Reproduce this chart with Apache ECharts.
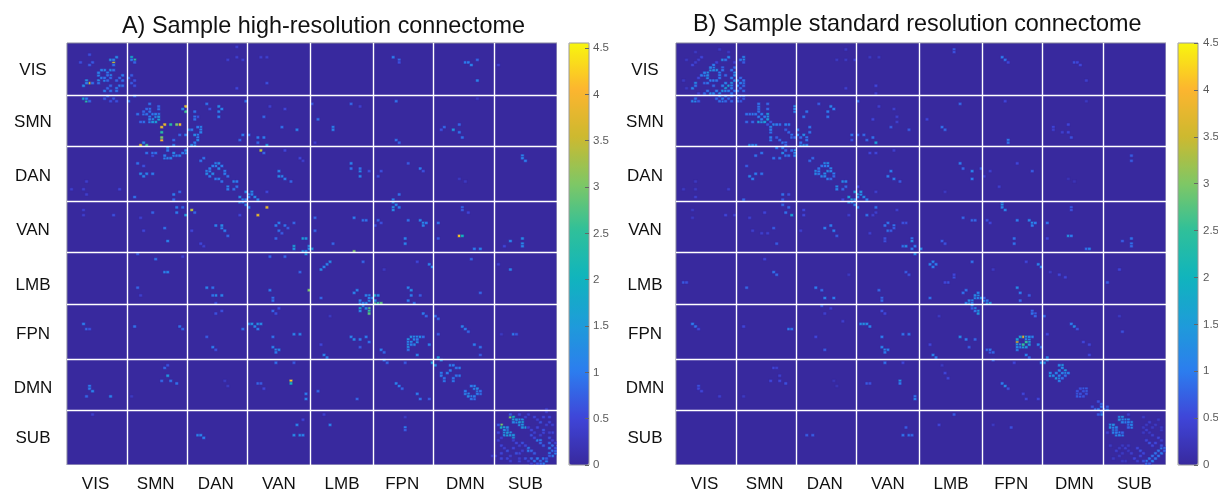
<!DOCTYPE html>
<html>
<head>
<meta charset="utf-8">
<style>html,body{margin:0;padding:0;background:#fff}#c{width:1218px;height:493px}canvas{filter:blur(.45px)}</style>
<script src="https://cdn.jsdelivr.net/npm/echarts@6/dist/echarts.min.js"></script>
</head>
<body>
<div id="c"></div>
<script>
const nodeCount = 163;
const networks = ['VIS','SMN','DAN','VAN','LMB','FPN','DMN','SUB'];
const labelNodesX = [9,29,49,70,91,111,132,152];
const labelNodesY = [10,30,51,72,93,112,133,152];
const boundariesX = [20,40,60,81,102,122,142];
const boundariesY = [20,40,61,81,101,122,142];
const colorbarTicks = [0,0.5,1,1.5,2,2.5,3,3.5,4,4.5];
const colorStops = ['#38299e','#3f45d8','#2c7dee','#1e9cd9','#10b4bd','#2fc09a','#7fc765','#cdb92f','#fcb52f','#f8f60e'];
const maxA = 4.554, maxB = 4.5;

// Upper-triangle connections: [node i, node j, strength]
const edgesA = [
[7,15,3.5],[6,14,1.3],[5,16,1.2],[6,15,1.1],[8,15,.9],[7,8,.7],[4,7,.6],[10,12,1.1],[10,14,1.2],[10,15,.9],[11,13,1],[12,14,1.1],[12,13,.9],[13,14,.8],[12,18,1],[14,18,.9],[13,17,.8],[14,16,.8],[16,17,1],[16,18,.9],[10,11,1.1],
[5,21,1.8],[6,22,2.4],[13,20,.8],[15,21,.7],[14,22,.6],[16,22,.6],[20,22,.9],[12,21,.7],[6,21,1],[7,22,.8],
[1,56,.4],[6,53,.4],[5,56,.4],[6,58,.4],[17,56,.5],[5,64,.4],[5,66,.4],[15,66,.6],
[5,108,1],[6,110,.8],[7,110,.6],[7,132,1],[7,133,1],[8,134,1.1],[6,136,.8],[14,136,1.1],[8,143,.4],
[24,39,3.7],[26,39,2.6],[25,38,1.2],[31,37,4.1],[31,36,3],[31,34,2.4],[31,32,3.8],[25,27,.9],[25,30,.9],[28,29,1.2],[27,28,1],[23,27,.9],[24,30,.8],[27,30,1],[29,30,1.6],[26,27,.9],[25,26,.8],[27,29,1.1],[28,30,1.4],[35,37,.8],[35,39,1],[33,40,1.2],
[26,42,.9],[28,43,.6],[32,44,1.1],[33,44,1.1],[35,43,1],[36,43,1],[39,42,1.2],[37,43,1.1],[23,46,.9],[25,47,.6],[24,50,1.2],[26,50,1.1],[25,51,1.1],[28,50,1],[22,59,.9],[28,42,.9],[33,41,1],[32,43,1],[34,44,1.1],[35,42,1.2],[38,42,1],[39,41,1.2],[29,42,.9],
[35,58,1],[37,57,.8],[35,60,.8],[36,63,1],[36,65,1],[39,66,1.5],[38,63,.8],[28,65,.8],[32,71,.9],[33,76,1.1],[25,72,.5],[24,67,.4],
[23,81,.7],[29,83,.9],[32,88,1.1],[33,88,1.1],[23,94,.8],[24,97,.4],[38,82,.4],[22,109,.9],[37,109,.9],[38,110,.8],
[32,125,.8],[33,124,.6],[33,128,1.4],[31,130,.8],[34,130,.9],[36,131,.9],[21,136,.3],
[46,49,1.1],[47,49,1.1],[46,50,1.2],[47,51,1],[48,50,1.2],[49,52,1],[50,52,1],[51,53,.9],[47,48,1],[44,45,.9],[53,55,1.1],[53,56,1],[55,56,.9],[57,59,1.2],[58,60,1.2],[57,61,1.2],[58,61,1.1],[59,62,1.2],[60,63,1.1],[59,60,1],
[49,70,1.1],[51,71,1.1],[51,70,1.2],[52,72,1],[53,74,.8],[41,64,3.4],[42,65,.8],[41,72,.5],[45,78,.4],[57,66,.5],[44,77,.5],
[46,94,1.1],[48,94,.9],[49,97,1.2],[51,97,1.1],[48,97,.9],[49,100,.6],[49,104,.6],[51,103,.6],[46,113,.7],[48,117,1],[49,118,.6],[58,110,.9],[60,108,1.1],[52,130,.3],[53,132,.3],[43,151,1.1],[44,151,1.1],[45,152,1],
[63,66,3.8],[69,70,1],[70,72,.9],[69,75,.8],[71,73,.7],[75,78,1.6],[75,79,1.4],[78,80,1.3],[79,81,1.5],[79,80,1.2],
[67,95,1],[68,98,.9],[68,99,.9],[67,82,.8],[72,82,.8],[77,88,.8],[80,95,3],
[61,108,1.3],[62,109,1.2],[63,108,1.3],[63,110,1],[64,108,1.2],[68,103,.8],[70,102,.6],[69,104,.6],[68,113,.9],[68,117,1.1],[69,118,1.2],[70,118,1.1],[69,119,1],[75,112,1.1],[77,112,1.1],
[63,131,.8],[64,131,.7],[65,133,.5],[69,123,.9],[75,123,.7],[74,130,4.2],[74,131,2],[79,135,1],[79,137,1.1],[76,147,1.1],[75,151,1.2],[77,151,1.2],[78,151,1.1],[78,145,.5],
[84,87,1.2],[85,86,1.1],[84,98,.8],[95,96,1.1],[97,100,1.2],[97,99,1.1],[98,101,1.2],[99,100,1.2],[98,100,1.1],[97,102,1.8],[100,102,2.8],[100,103,2.5],[100,104,2.8],[97,103,1.2],[99,102,1.2],
[94,113,1.1],[95,114,1.2],[97,114,1],[99,113,1],[100,115,.9],[97,117,.7],[85,120,1.1],[86,121,1.1],[84,116,.5],[87,105,.3],[104,118,1],[83,134,.8],[96,137,.8],[87,147,1.1],[85,143,.4],
[113,114,1.3],[113,115,1.1],[113,116,1.2],[113,117,1.3],[114,115,1.2],[115,116,1.2],[114,116,1],[113,118,.9],[116,120,1.1],[105,119,.8],[106,123,.8],
[105,122,.9],[109,131,1.1],[110,132,1],[111,133,.8],[116,135,1],[117,137,.9],[120,137,.7],[112,123,.7],[121,123,1.5],[122,124,1.3],[112,148,1],[112,149,.7],[112,144,.3],
[124,127,1],[124,128,1],[125,130,1],[128,130,1],[126,127,1],[125,129,.9],[128,129,.9],[133,135,1.1],[134,136,1.1],[132,135,1.1],[133,136,1.2],[135,137,.9],[134,137,.9],[135,136,1],[132,134,1],[141,159,.4],
[144,147,3],[144,148,2],[145,150,1.4],[145,151,1.3],[146,151,1.6],[148,152,1.5],[147,150,1.3],[146,149,1.2],[145,148,1.6],[146,150,1.5],[147,151,1.4],[148,151,1.4],[145,149,1.3],[146,148,1.2],
[153,156,1],[153,157,1],[154,157,.8],[151,154,.6],[150,158,.5],[143,150,.5],[143,153,.4],[144,155,.5],[144,158,.5],[146,157,.6],[146,160,.5],[148,156,.5],[149,158,.6],[150,161,.5],[152,160,.6],[154,160,.8],[155,161,.9],[156,160,1],[157,161,.9],[158,162,1],[157,162,.8],[158,160,1],[159,161,1],[159,160,.7],[156,162,.6],[155,158,.7],[152,155,.5],[148,153,.4],[144,152,.4],[142,159,.4],[144,160,.5],[147,159,.4],[147,161,.4],[150,155,.4],[151,157,.4],[153,161,.4],[145,156,.4],[149,154,.5],[150,160,.4],[154,162,.4],[143,147,.7]
];

// Upper-triangle connections
const edgesB = [
[5,17,1.1],[6,15,1.2],[6,16,.9],[9,15,.8],[10,13,1.2],[9,12,1.1],[10,11,1.3],[10,12,1.2],[11,14,1],[12,14,1],[10,15,.9],[13,14,.9],[11,19,1.2],[9,19,.8],[12,19,1.1],[15,18,1.3],[16,17,1.6],[15,16,1.1],[14,19,1.2],[16,18,1.1],[14,20,1.1],[13,21,.8],[16,20,1],[17,18,1],[18,20,.9],[10,18,.9],[7,13,.5],[5,8,.5],[2,14,.3],[3,17,.3],[7,19,.4],[8,12,1],[9,11,1.1],[6,7,.4],[3,6,.3],[13,18,1],[12,16,.8],[18,19,.9],[17,21,.8],[18,22,.8],[15,22,1],[14,22,.9],
[5,22,1.1],[6,22,1.2],[15,21,1],[16,22,.8],[20,21,.7],[21,22,.7],[20,22,.8],[6,21,.9],[7,22,.7],
[2,56,.3],[6,53,.3],[6,56,.3],[6,59,.4],[17,56,.4],[5,64,.3],[5,67,.3],[16,66,.5],[19,66,.4],[2,92,.7],[3,92,.6],[5,108,1],[6,109,.9],[7,110,.5],[7,132,.6],[7,133,.5],[8,134,.5],[14,136,.4],
[25,27,1],[23,30,.8],[25,30,.8],[24,27,.9],[27,28,1],[27,30,1.5],[28,30,1.3],[28,29,1],[29,30,1.5],[26,27,.9],[23,27,.9],[30,31,.6],[24,39,1.2],[26,39,1.1],[31,37,1],[31,34,.9],[31,32,1.1],[31,33,1],[31,36,1],[25,39,1.1],[35,38,.9],[34,37,.8],[33,36,.7],[36,38,.8],[35,40,1],[36,39,.8],
[26,43,.9],[28,42,.9],[32,44,.9],[34,44,.9],[35,42,1.2],[39,41,1.3],[39,42,1.2],[23,47,.7],[24,51,1.1],[26,50,1],[25,52,1],[28,50,.9],[22,60,.8],[36,43,.9],[33,40,1],[37,43,.9],[38,41,.9],[39,43,1.1],[36,41,.8],
[35,58,.9],[37,58,.6],[35,60,.7],[35,62,.8],[37,63,.8],[38,66,1.6],[36,65,.9],[29,65,.5],[32,71,.7],[33,77,.7],[25,72,.4],[28,73,.4],[30,73,.4],[24,67,.4],
[29,83,.5],[32,88,.9],[33,89,.8],[23,94,.8],[22,109,.5],[37,110,1],[38,110,.9],[32,125,.5],[33,125,.4],[34,128,.4],[31,130,.5],[34,130,.5],[36,131,.6],[22,136,.3],
[44,45,.8],[46,49,1.2],[46,50,1.2],[47,50,1],[48,51,1.1],[47,49,1],[49,50,1.2],[49,51,1.1],[50,52,1],[51,52,.8],[47,48,.9],[53,55,1.2],[53,56,1.1],[55,56,.8],[57,59,1.5],[58,60,1.6],[58,61,1.2],[57,61,1.3],[59,62,1.2],[60,63,1],[59,60,1.1],[55,60,.5],
[49,71,1],[51,70,1],[52,72,1],[53,74,.7],[42,64,.5],[42,66,.5],[41,72,.4],[57,66,.4],
[46,94,1],[48,95,.8],[49,98,1.1],[52,98,1],[48,101,.7],[57,89,.3],[49,104,.4],[51,102,.4],[46,113,.5],[49,118,.7],[55,107,.4],[61,108,1.2],[52,130,.2],[53,132,.2],[43,151,.7],[45,151,.7],
[63,66,.9],[65,66,.4],[69,70,.9],[70,72,.9],[71,72,.7],[69,76,.6],[75,78,.9],[76,78,1.2],[69,75,.6],[78,79,1],[64,73,.4],[79,81,1.2],
[67,95,.8],[68,98,.8],[68,99,.8],[76,88,.7],[77,89,.6],[62,108,1.3],[63,108,1.2],[64,109,1.1],[68,103,.6],[69,104,.5],[68,113,1],[68,117,1.1],[69,118,1.2],[70,118,1],[69,119,1],[75,112,.9],[77,112,.9],
[63,131,.7],[64,131,.6],[69,123,.9],[74,130,1.3],[74,131,1],[79,136,.9],[79,137,1.1],[75,123,.5],[76,148,.7],[75,151,.9],[77,151,.9],[78,151,.8],
[84,85,1.1],[85,86,1],[84,98,.9],[90,92,.6],[89,92,.5],[95,96,.9],[97,100,1.3],[98,99,1.2],[97,99,1.2],[96,100,1.1],[98,100,1.1],[98,101,1.3],[99,102,1.2],[100,103,1.4],[100,104,1.4],[99,103,.9],[98,102,.7],
[94,113,1.2],[96,114,1],[99,114,.8],[97,117,.7],[84,116,.5],[85,120,1.1],[86,121,1],[87,105,.3],[103,118,.8],[104,119,.7],[89,127,.5],[90,129,.5],[88,124,.3],[87,147,.5],[92,143,.7],
[113,115,3.6],[113,114,1.6],[113,116,1.4],[113,118,1.1],[114,116,1.2],[114,117,1.1],[115,117,1.5],[116,117,1.4],[115,116,2.5],[113,117,1.2],[116,120,1.1],[117,121,.8],[104,118,.9],[105,119,.8],
[105,122,.8],[108,131,1],[109,132,1.2],[110,133,.6],[115,135,.5],[116,137,.5],[120,137,.5],[112,123,.5],[122,123,1.3],[121,123,1.2],[111,148,.6],[105,147,.3],
[124,128,1.4],[126,129,1.4],[127,129,1.2],[127,128,1.1],[127,130,1.1],[124,127,1.2],[125,128,1.2],[126,127,1.1],[128,129,.9],[133,135,.7],[133,136,.7],[134,136,.7],[135,136,.6],[134,135,.6],[133,134,.6],[139,141,.8],[138,140,.6],[141,142,.8],[141,143,1.1],[140,143,.7],[140,141,.9],
[144,147,1.2],[144,148,1.3],[145,149,1.2],[145,150,1.1],[146,151,1.2],[148,151,1.1],[147,150,1],[146,149,1],[145,148,1.1],[146,150,1],[147,151,1.1],[148,150,.8],[145,147,1.3],[146,148,1.1],
[156,161,1],[156,162,.8],[157,160,.9],[158,161,1],[158,159,.9],[159,160,.9],[153,156,.5],[154,157,.6],[155,158,.5],[150,157,.3],[143,150,.4],[144,155,.3],[146,157,.4],[147,159,.3],[149,156,.4],[149,161,.3],[151,158,.4],[152,160,.5],[153,161,.4],[154,159,.5],[155,161,.6],[157,162,.7],[145,160,.3],[150,155,.3],[148,155,.3],[148,158,.3],[148,161,.3],[147,156,.3]
];

// connectivity matrices are symmetric: each listed link is shown at (i,j) and (j,i)
const cells = edges => edges.flatMap(([i, j, v]) => [[j, i, v], [i, j, v]]);
const nodes = Array.from({ length: nodeCount }, (_, k) => String(k));
const labelled = (list) => (index) => list.includes(index);
const boundary = (list) => (index) => list.includes(index);
const labelOf = (list) => (value) => { const k = list.indexOf(+value); return k >= 0 ? networks[k] : ''; };
const font = 'Liberation Sans, Arial, sans-serif';

function panel(idx, left, yMargin, data, barLeft, max, title, titleLeft, titleTop, barMargin) {
  const gridBase = idx * 2;
  return {
    title: { text: title, left: titleLeft, top: titleTop, padding: 0, textStyle: { fontFamily: font, fontSize: 23.4, fontWeight: 'normal', color: '#111' } },
    grids: [
      { left, top: 43, width: 490, height: 422, show: true, backgroundColor: colorStops[0], borderColor: '#84849c', borderWidth: 1, outerBoundsMode: 'none' },
      { left: barLeft, top: 43, width: 20, height: 422, show: true, backgroundColor: 'transparent', borderColor: '#9a9a9a', borderWidth: 1, z: 6, outerBoundsMode: 'none' }
    ],
    xAxes: [
      { type: 'category', gridIndex: gridBase, data: nodes, position: 'bottom', z: 3,
        axisLine: { show: false }, axisTick: { show: false },
        axisLabel: { interval: labelled(labelNodesX), formatter: labelOf(labelNodesX), margin: 11, color: '#111', fontSize: 17, fontFamily: font },
        splitLine: { show: true, interval: boundary(boundariesX), lineStyle: { color: '#fff', width: 1.4 } } },
      { type: 'value', gridIndex: gridBase + 1, show: false, min: 0, max: 1 }
    ],
    yAxes: [
      { type: 'category', gridIndex: gridBase, data: nodes, inverse: true, z: 3,
        axisLine: { show: false }, axisTick: { show: false },
        axisLabel: { interval: labelled(labelNodesY), formatter: labelOf(labelNodesY), margin: yMargin, align: 'center', color: '#111', fontSize: 17, fontFamily: font },
        splitLine: { show: true, interval: boundary(boundariesY), lineStyle: { color: '#fff', width: 1.4 } } },
      { type: 'value', gridIndex: gridBase + 1, position: 'right', min: 0, max, z: 7,
        axisLine: { show: false, onZero: false }, splitLine: { show: false },
        axisTick: { show: true, inside: true, length: 4, customValues: colorbarTicks, lineStyle: { color: '#666' } },
        axisLabel: { customValues: colorbarTicks, margin: barMargin, color: '#5a5a5a', fontSize: 11.5, fontFamily: font } }
    ],
    visualMap: { type: 'continuous', seriesIndex: idx, min: 0, max, dimension: 2, left: barLeft, top: 43, itemWidth: 20, itemHeight: 422,
      padding: 0, calculable: false, hoverLink: false, inRange: { color: colorStops }, z: 4 },
    series: { type: 'heatmap', xAxisIndex: gridBase, yAxisIndex: gridBase, data, silent: true, progressive: 0, emphasis: { disabled: true },
      itemStyle: { borderColor: colorStops[0], borderWidth: 0.6 } }
  };
}

const A = panel(0, 67, 34, cells(edgesA), 569, maxA, 'A) Sample high-resolution connectome', 122, 15, 4);
const B = panel(1, 676, 31, cells(edgesB), 1178, maxB, 'B) Sample standard resolution connectome', 693, 13, 5);

const chart = echarts.init(document.getElementById('c'), null, { renderer: 'canvas' });
chart.setOption({
  animation: false,
  backgroundColor: '#fff',
  title: [A.title, B.title],
  grid: [...A.grids, ...B.grids],
  xAxis: [...A.xAxes, ...B.xAxes],
  yAxis: [...A.yAxes, ...B.yAxes],
  visualMap: [A.visualMap, B.visualMap],
  series: [A.series, B.series]
});
</script>
</body>
</html>
